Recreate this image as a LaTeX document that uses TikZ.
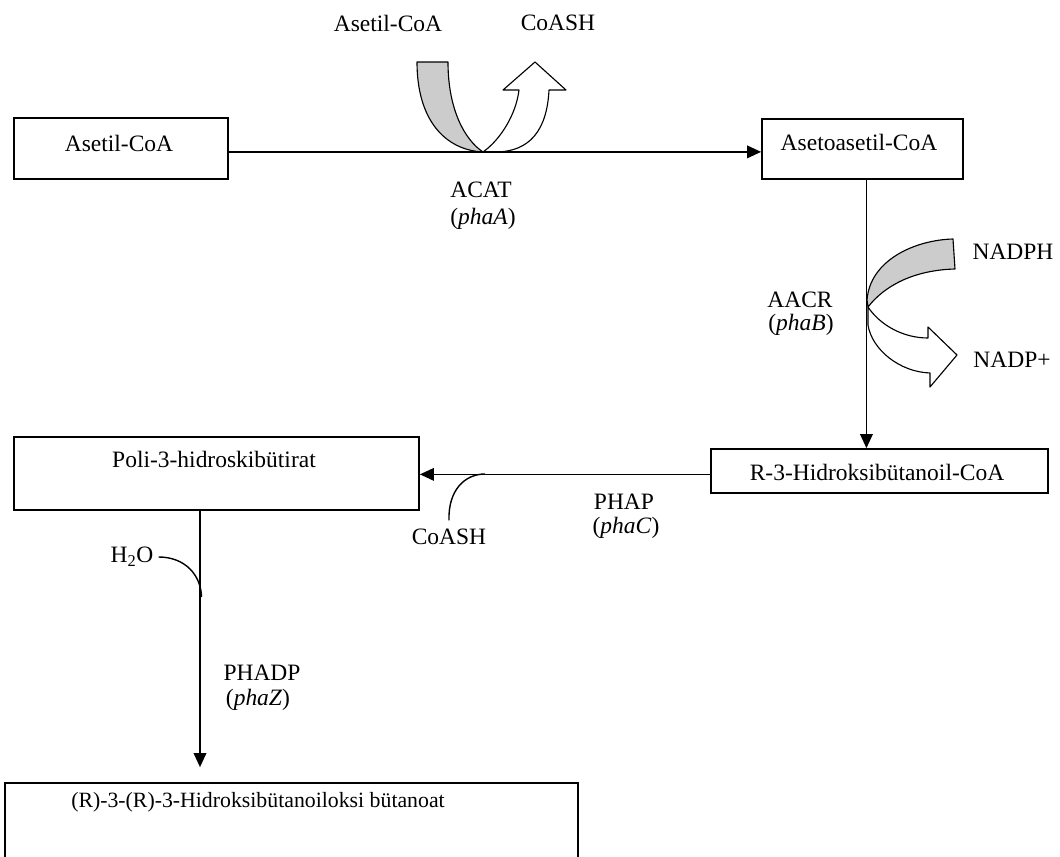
\documentclass[tikz,border=0pt]{standalone}
\usepackage{fontspec}
\setmainfont{Liberation Serif}
\usetikzlibrary{arrows.meta,positioning}
\definecolor{bandgray}{RGB}{204,204,204}

\begin{document}
\begin{tikzpicture}[x=0.025cm,y=-0.025cm,
    font=\fontsize{16.7}{20}\selectfont,
    box/.style={draw,line width=1.2pt,inner sep=0pt},
    lbl/.style={inner sep=0pt},
    flow/.style={line width=1pt,-{Triangle[length=10pt,width=9pt]}},
    hook/.style={line width=1pt},
    blk/.style={line width=0.8pt,line join=round}]
  \useasboundingbox (0,0) rectangle (1060,856);
  \clip (0,0) rectangle (1060,856);
  % boxes
  \node[box,minimum width=5.35cm,minimum height=1.525cm] (AC) at (121,148.5) {};
  \node[box,minimum width=5.025cm,minimum height=1.5cm] (AAC) at (862.5,149) {};
  \node[box,minimum width=8.425cm,minimum height=1.1cm] (HB) at (879.5,471) {};
  \node[box,minimum width=10.125cm,minimum height=1.825cm] (PHB) at (216.5,473.5) {};
  \node[box,minimum width=14.325cm,minimum height=2.425cm] (RR) at (291.5,831.5) {};
  \node[lbl] (tAC) at (119,143) {Asetil-CoA};
  \node[lbl] (tAAC) at (859,142) {Asetoasetil-CoA};
  \node[lbl] (tHB) at (877,472) {R-3-Hidroksibütanoil-CoA};
  \node[lbl] (tPHB) at (214,459) {Poli-3-hidroskibütirat};
  \node[lbl,font=\fontsize{15.5}{18}\selectfont] (tRR) at (258,802) {(R)-3-(R)-3-Hidroksibütanoiloksi bütanoat};
  % enzymes and cofactors
  \node[lbl] (ACAT) at (481,190) {ACAT};
  \node[lbl] (phaA) at (483,219) {(\textit{phaA})};
  \node[lbl] (AACR) at (800,300) {AACR};
  \node[lbl] (phaB) at (801,325) {(\textit{phaB})};
  \node[lbl] (PHAP) at (624,502) {PHAP};
  \node[lbl] (phaC) at (626,528) {(\textit{phaC})};
  \node[lbl] (PHADP) at (262,673) {PHADP};
  \node[lbl] (phaZ) at (258,700) {(\textit{phaZ})};
  \node[lbl] (inAC) at (388,23) {Asetil-CoA};
  \node[lbl] (outCoA) at (558,23) {CoASH};
  \node[lbl] (NADPH) at (1013,252) {NADPH};
  \node[lbl] (NADP) at (1012,360) {NADP+};
  \node[lbl] (CoA2) at (449,537) {CoASH};
  \node[lbl] (H2O) at (132,557) {H\textsubscript{2}O};
  % block arrows, ACAT step
  \filldraw[blk,fill=bandgray] (417,62) -- (448,62)
    .. controls (448,110) and (465,140) .. (483,152)
    .. controls (445,150) and (417,120) .. (417,62) -- cycle;
  \filldraw[blk,fill=white] (483,152)
    .. controls (500,140) and (516,115) .. (519,90)
    -- (503,90) -- (535,62) -- (566,90) -- (549,90)
    .. controls (547,130) and (530,152) .. (495,152) -- cycle;
  % block arrows, AACR step
  \filldraw[blk,fill=bandgray] (953,239)
    .. controls (915,240) and (870,260) .. (867,300) -- (868,307)
    .. controls (885,285) and (915,270) .. (955,269) -- cycle;
  \filldraw[blk,fill=white] (868,307)
    .. controls (880,325) and (903,338) .. (928,338)
    -- (928,327) -- (957,355) -- (930,387) -- (930,373)
    .. controls (900,372) and (872,350) .. (868,325) -- cycle;
  % main pathway
  \draw[flow] ([yshift=-2.4pt]AC.east) -- ([yshift=-2.4pt]AC.east -| AAC.west);
  \draw[flow] ([xshift=2.8pt]AAC.south) -- ([xshift=2.8pt]AAC.south |- HB.north);
  \draw[flow] ([yshift=-2.4pt]HB.west) -- ([yshift=-2.4pt]HB.west -| PHB.east);
  \draw[flow,shorten >=0.375cm] ([xshift=-0.4125cm]PHB.south) -- ([xshift=-0.4125cm]PHB.south |- RR.north);
  % side hooks
  \coordinate (jC) at (485,474);
  \coordinate (jW) at (201.5,597);
  \draw[hook] ([yshift=6pt]CoA2.north) .. controls (448,490) and (465,474) .. (jC);
  \draw[hook] ([xshift=3.5pt]H2O.east) .. controls (185,557) and (201,575) .. (jW);
\end{tikzpicture}
\end{document}
